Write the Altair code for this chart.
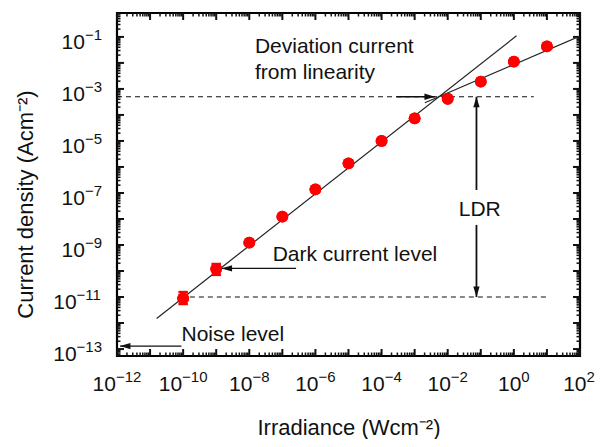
import altair as alt
import pandas as pd

FONT = "Liberation Sans"

# measured data (irradiance W/cm^2, current density A/cm^2)
irradiance = [1e-10, 1e-9, 1e-8, 1e-7, 1e-6, 1e-5, 1e-4, 1e-3, 1e-2, 1e-1, 1e0, 1e1]
current = [8.9e-12, 1.2e-10, 1.23e-9, 1.23e-8, 1.38e-7, 1.38e-6, 1.0e-5, 7.4e-5,
           4.2e-4, 1.9e-3, 1.12e-2, 4.3e-2]

# error bars on the lowest points
err_x = [1e-10, 1e-9]
err_lo = [5.4e-12, 7.1e-11]
err_hi = [1.55e-11, 1.86e-10]

# fitted lines
fit_name = ["linear", "linear", "sat", "sat"]
fit_x = [1.58e-11, 1.2, 2.04e-3, 1e2]
fit_y = [1.5e-12, 0.11, 2.95e-4, 0.107]

# dashed levels
lvl_name = ["dev", "dev", "dark", "dark"]
lvl_x = [1e-12, 4.0, 1.6e-10, 9.5]
lvl_y = [5.0e-4, 5.0e-4, 1e-11, 1e-11]

# arrows (start -> tip)
arr_x1 = [2.8e-4, 0.074, 0.074, 2.6e-7, 8.9e-11]
arr_y1 = [5.0e-4, 1.3e-7, 5.9e-9, 1.26e-10, 1.3e-13]
arr_x2 = [4.1e-3, 0.074, 0.074, 1.45e-9, 1.23e-12]
arr_y2 = [5.0e-4, 5.0e-4, 1e-11, 1.26e-10, 1.3e-13]
arr_angle = [0, 270, 90, 180, 180]
arr_w = [1.3, 1.8, 1.8, 1.3, 1.3]

# annotations
ann_text = ["Deviation current", "from linearity", "Dark current level", "Noise level"]
ann_x = [1.48e-8, 1.48e-8, 5.1e-8, 8.9e-11]
ann_y = [4.1e-2, 4.0e-3, 4.2e-10, 3.5e-13]
ldr_text = ["LDR"]
ldr_x = [0.093]
ldr_y = [2.2e-8]

# axis ticks and labels
x_major = [1e-12, 1e-11, 1e-10, 1e-9, 1e-8, 1e-7, 1e-6, 1e-5, 1e-4, 1e-3, 1e-2, 1e-1, 1e0, 1e1, 1e2]
y_major = [1e-13, 1e-12, 1e-11, 1e-10, 1e-9, 1e-8, 1e-7, 1e-6, 1e-5, 1e-4, 1e-3, 1e-2, 1e-1]
x_label_vals = [1e-12, 1e-10, 1e-8, 1e-6, 1e-4, 1e-2, 1e0, 1e2]
x_label_exp = ["−12", "−10", "−8", "−6", "−4", "−2", "0", "2"]
y_label_vals = [1e-13, 1e-11, 1e-9, 1e-7, 1e-5, 1e-3, 1e-1]
y_label_exp = ["−13", "−11", "−9", "−7", "−5", "−3", "−1"]

X_DOM = [1e-12, 1e2]
Y_DOM = [5.4e-14, 0.83]
W, H = 463, 343
BASE_FS, EXP_FS = 21, 15

def text_w(s, fs):
    return sum((0.584 if c == "−" else 0.556) for c in s) * fs

BASE_W = text_w("10", BASE_FS)

x_minor = [k * m for m in x_major[:-1] for k in range(2, 10)]
y_minor = [k * m for m in y_major for k in range(2, 10) if Y_DOM[0] <= k * m <= Y_DOM[1]]
y_minor += [k * 1e-14 for k in range(2, 10) if Y_DOM[0] <= k * 1e-14 <= Y_DOM[1]]

xs = alt.Scale(type="log", domain=X_DOM)
ys = alt.Scale(type="log", domain=Y_DOM)

def X(f="x", **kw):
    return alt.X(f, type="quantitative", scale=xs, axis=None, **kw)

def Y(f="y", **kw):
    return alt.Y(f, type="quantitative", scale=ys, axis=None, **kw)

pts_df = pd.DataFrame({"x": irradiance, "y": current})
points = alt.Chart(pts_df).mark_point(filled=True, color="#ff0000", size=140, opacity=1).encode(
    x=alt.X("x", type="quantitative", scale=xs,
            axis=alt.Axis(title="Irradiance (Wcm⁻²)", labels=False,
                          ticks=False, domain=False, grid=False, titleY=78,
                          titleBaseline="alphabetic")),
    y=alt.Y("y", type="quantitative", scale=ys,
            axis=alt.Axis(title="Current density (Acm⁻²)", labels=False,
                          ticks=False, domain=False, grid=False,
                          titleX=-92, titleY=191, titleBaseline="middle",
                          titleAlign="center", titleAngle=-90)),
)

# tick labels as "10" + superscript exponent
xl_df = pd.DataFrame({"x": x_label_vals, "e": x_label_exp})
xl_df["b"] = "10"
xl_df["off"] = [(BASE_W - text_w(e, EXP_FS)) / 2 - (1 if e == "2" else 0) for e in x_label_exp]
x_base = alt.Chart(xl_df).mark_text(align="right", baseline="middle", fontSize=BASE_FS, font=FONT,
                                    color="#111111", dx=alt.ExprRef(expr="datum.off")).encode(
    x=X(), y=alt.value(H + 29), text="b")
x_exp = alt.Chart(xl_df).mark_text(align="left", baseline="middle", fontSize=EXP_FS, font=FONT,
                                   color="#111111", dx=alt.ExprRef(expr="datum.off")).encode(
    x=X(), y=alt.value(H + 21), text="e")

yl_df = pd.DataFrame({"y": y_label_vals, "e": y_label_exp})
yl_df["b"] = "10"
yl_df["off"] = [-text_w(e, EXP_FS) for e in y_label_exp]
y_base = alt.Chart(yl_df).mark_text(align="right", baseline="middle", fontSize=BASE_FS, font=FONT,
                                    color="#111111", dx=alt.ExprRef(expr="datum.off"), dy=6).encode(
    y=Y(), x=alt.value(-15), text="b")
y_exp = alt.Chart(yl_df).mark_text(align="left", baseline="middle", fontSize=EXP_FS, font=FONT,
                                   color="#111111", dx=alt.ExprRef(expr="datum.off"), dy=-2).encode(
    y=Y(), x=alt.value(-15), text="e")

points_top = alt.Chart(pts_df).mark_point(filled=True, color="#ff0000", size=140, opacity=1).encode(
    x=X(), y=Y())

err_df = pd.DataFrame({"x": err_x, "y": err_lo, "y2": err_hi})
err_rule = alt.Chart(err_df).mark_rule(color="#ff0000", strokeWidth=2).encode(
    x=X(), y=Y(), y2="y2")
cap_df = pd.DataFrame({"x": err_x + err_x, "y": err_lo + err_hi})
err_caps = alt.Chart(cap_df).mark_point(shape="stroke", color="#ff0000", strokeWidth=2.5, size=90,
                                        opacity=1).encode(x=X(), y=Y())

fit_df = pd.DataFrame({"name": fit_name, "x": fit_x, "y": fit_y})
fits = alt.Chart(fit_df).mark_line(color="#222222", strokeWidth=1.2, clip=True).encode(
    x=X(), y=Y(), detail="name")

lvl_df = pd.DataFrame({"name": lvl_name, "x": lvl_x, "y": lvl_y})
levels = alt.Chart(lvl_df).mark_line(color="#111111", strokeWidth=1.2, strokeDash=[5, 4]).encode(
    x=X(), y=Y(), detail="name")

arr_df = pd.DataFrame({"x": arr_x1, "y": arr_y1, "x2": arr_x2, "y2": arr_y2,
                       "angle": arr_angle, "w": arr_w})
arr_lines = alt.Chart(arr_df).mark_rule(color="#111111").encode(
    x=X(), y=Y(), x2="x2", y2="y2",
    strokeWidth=alt.StrokeWidth("w", type="quantitative", scale=None))
arr_heads = alt.Chart(arr_df).mark_point(shape="M0,0 L-2,-0.6 L-2,0.6 Z", filled=True,
                                         color="#111111", size=110, opacity=1).encode(
    x=X("x2"), y=Y("y2"),
    angle=alt.Angle("angle", type="quantitative", scale=None))

ann_df = pd.DataFrame({"t": ann_text, "x": ann_x, "y": ann_y})
ann = alt.Chart(ann_df).mark_text(align="left", baseline="middle", fontSize=21, font=FONT,
                                  color="#111111").encode(x=X(), y=Y(), text="t")
ldr_df = pd.DataFrame({"t": ldr_text, "x": ldr_x, "y": ldr_y})
ldr = alt.Chart(ldr_df).mark_text(align="center", baseline="middle", fontSize=21, font=FONT,
                                  color="#111111").encode(x=X(), y=Y(), text="t")

def tick_layers(vals, length, width):
    dx = pd.DataFrame({"x": [v for v in vals[0]]})
    dy = pd.DataFrame({"y": [v for v in vals[1]]})
    bot = alt.Chart(dx).mark_rule(color="#111111", strokeWidth=width).encode(
        x=X(), y=alt.value(H), y2=alt.value(H - length))
    top = alt.Chart(dx).mark_rule(color="#111111", strokeWidth=width).encode(
        x=X(), y=alt.value(0), y2=alt.value(length))
    left = alt.Chart(dy).mark_rule(color="#111111", strokeWidth=width).encode(
        y=Y(), x=alt.value(0), x2=alt.value(length))
    right = alt.Chart(dy).mark_rule(color="#111111", strokeWidth=width).encode(
        y=Y(), x=alt.value(W), x2=alt.value(W - length))
    return [bot, top, left, right]

ticks = tick_layers((x_major, y_major), 7, 2) + tick_layers((x_minor, y_minor), 3.5, 1.5)

chart = alt.layer(
    points, *ticks, x_base, x_exp, y_base, y_exp, fits, levels, arr_lines, arr_heads, ann, ldr,
    err_rule, err_caps, points_top
).resolve_axis(
    x="independent", y="independent"
).properties(
    width=W, height=H,
    autosize="none",
    padding={"left": 109, "top": 5, "right": 15, "bottom": 83},
).configure_view(
    stroke="black", strokeWidth=2.2
).configure_axis(
    titleFont=FONT, titleFontSize=22, titleColor="#111111", titleFontWeight="normal",
)

chart.save("out.html", embed_options={"renderer": "svg", "actions": False})
